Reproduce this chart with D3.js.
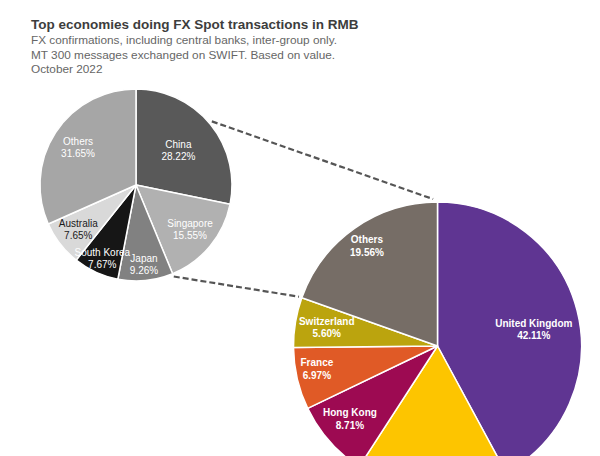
<!DOCTYPE html>
<html>
<head>
<meta charset="utf-8">
<script src="https://cdn.jsdelivr.net/npm/d3@7"></script>
<style>
  html, body { margin: 0; padding: 0; background: #ffffff; }
  svg { display: block; font-family: "Liberation Sans", Arial, sans-serif; }
</style>
</head>
<body>
<svg id="chart" width="600" height="456"></svg>
<script>
// ---- data ----
const mainCategories = ["United Kingdom", "United States", "Hong Kong", "France", "Switzerland", "Others"];
const mainValues = [42.11, 17.05, 8.71, 6.97, 5.60, 19.56];
const mainColors = ["#5f3592", "#fdc500", "#9d0a52", "#e05a26", "#bba40e", "#766d66"];

const otherCategories = ["China", "Singapore", "Japan", "South Korea", "Australia", "Others"];
const otherValues = [28.22, 15.55, 9.26, 7.67, 7.65, 31.65];
const otherColors = ["#595959", "#b1b1b1", "#818181", "#161616", "#d9d9d9", "#a6a6a6"];
const otherLabelColors = ["#ffffff", "#ffffff", "#ffffff", "#ffffff", "#1a1a1a", "#ffffff"];

const titleText = "Top economies doing FX Spot transactions in RMB";
const subtitleLines = [
  "FX confirmations, including central banks, inter-group only.",
  "MT 300 messages exchanged on SWIFT. Based on value.",
  "October 2022"
];

// ---- layout ----
const W = 600, H = 456;
const svg = d3.select("#chart");
const big = { cx: 437.5, cy: 346, r: 144 };
const small = { cx: 136, cy: 185, r: 96 };
const fmt = v => v.toFixed(2) + "%";

// label radius fractions (best-fit style placement)
const mainLabelFrac = [0.69, 0.9, 0.81, 0.86, 0.78, 0.85];
const mainLabelNudge = [[0, 8], [0, 0], [0, -4], [0, -5], [0, 0], [0, 0]];
const otherLabelFrac = [0.57, 0.73, 0.83, 0.84, 0.76, 0.72];

// title
svg.append("text").attr("x", 31).attr("y", 29)
  .attr("font-size", 13.5).attr("font-weight", "bold").attr("fill", "#3d3d3d")
  .text(titleText);
svg.append("g").selectAll("text").data(subtitleLines).join("text")
  .attr("x", 31).attr("y", (d, i) => 44 + i * 14.6)
  .attr("font-size", 11.8).attr("fill", "#666666")
  .text(d => d);

const pie = d3.pie().sort(null).value(d => d.v);

// connector lines (drawn first so pies sit on top)
const connG = svg.append("g");

function drawPie(cfg, cats, vals, colors, labelColors, fracs, nudges, fontWeight, fontSize, lineH) {
  const data = cats.map((c, i) => ({ c, v: vals[i], col: colors[i], lc: labelColors[i], f: fracs[i], n: nudges ? nudges[i] : [0, 0] }));
  const arcs = pie(data);
  const arc = d3.arc().innerRadius(0).outerRadius(cfg.r);
  const g = svg.append("g").attr("transform", `translate(${cfg.cx},${cfg.cy})`);
  g.selectAll("path").data(arcs).join("path")
    .attr("d", arc)
    .attr("fill", d => d.data.col)
    .attr("stroke", "#ffffff")
    .attr("stroke-width", 1.5)
    .attr("stroke-linejoin", "round");
  arcs.forEach(d => {
    const rr = cfg.r * d.data.f;
    const c = d3.arc().innerRadius(rr).outerRadius(rr).centroid(d);
    d.lx = c[0] + d.data.n[0];
    d.ly = c[1] + d.data.n[1];
  });
  // labels whose block falls below the visible area are not drawn (cropped in the original)
  const visible = arcs.filter(d => cfg.cy + d.ly - lineH < H);
  const lg = g.selectAll("g.lab").data(visible).join("g").attr("class", "lab")
    .attr("transform", d => `translate(${d.lx},${d.ly})`);
  lg.append("text").attr("text-anchor", "middle").attr("y", -lineH / 2 + fontSize * 0.35)
    .attr("font-size", fontSize).attr("font-weight", fontWeight).attr("fill", d => d.data.lc)
    .text(d => d.data.c);
  lg.append("text").attr("text-anchor", "middle").attr("y", lineH / 2 + fontSize * 0.35)
    .attr("font-size", fontSize).attr("font-weight", fontWeight).attr("fill", d => d.data.lc)
    .text(d => fmt(d.data.v));
  return arcs;
}

const bigArcs = drawPie(big, mainCategories, mainValues, mainColors,
  mainCategories.map(() => "#ffffff"), mainLabelFrac, mainLabelNudge, "bold", 10, 12.5);
const smallArcs = drawPie(small, otherCategories, otherValues, otherColors, otherLabelColors,
  otherLabelFrac, null, "normal", 10, 11.5);

// connectors: from small pie edge to the edges of the big pie's "Others" slice
const othersArc = bigArcs[bigArcs.length - 1];
function pt(cfg, ang, rr) {
  return [cfg.cx + rr * Math.sin(ang), cfg.cy - rr * Math.cos(ang)];
}
const upperSmallAng = 50 * Math.PI / 180;
const lowerSmallAng = smallArcs[1].endAngle; // Singapore/Japan boundary
const conns = [
  [pt(small, upperSmallAng, small.r + 3), pt(big, othersArc.endAngle - 0.03, big.r + 3)],
  [pt(small, lowerSmallAng, small.r + 3), pt(big, othersArc.startAngle, big.r + 3)]
];
connG.selectAll("line").data(conns).join("line")
  .attr("x1", d => d[0][0]).attr("y1", d => d[0][1])
  .attr("x2", d => d[1][0]).attr("y2", d => d[1][1])
  .attr("stroke", "#555555").attr("stroke-width", 2.2)
  .attr("stroke-dasharray", "6,3");
</script>
</body>
</html>
